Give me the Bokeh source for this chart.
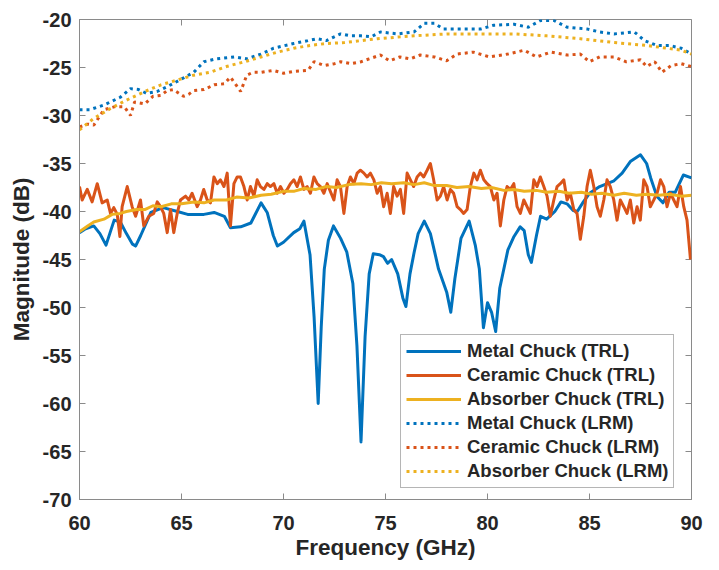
import math
from bokeh.plotting import figure
from bokeh.models import Range1d, Legend, LegendItem, FixedTicker
from bokeh.embed import file_html
from bokeh.resources import INLINE

# ---------------- data ----------------
x_ticks = [60, 65, 70, 75, 80, 85, 90]
y_ticks = [-70, -65, -60, -55, -50, -45, -40, -35, -30, -25, -20]

metal_trl_f = [60.0, 60.3, 60.7, 61.0, 61.3, 61.5, 61.7, 62.0, 62.3, 62.6, 62.75, 63.0, 63.5, 64.1,
               64.8, 65.3, 66.1, 66.6, 67.1, 67.4, 67.9, 68.4, 68.9, 69.2, 69.5, 69.7, 70.0, 70.5,
               70.8, 71.0, 71.3, 71.5, 71.7, 71.85, 72.0, 72.2, 72.45, 72.8, 73.1, 73.4, 73.6, 73.8,
               74.0, 74.2, 74.4, 74.7, 74.9, 75.1, 75.3, 75.6, 75.85, 76.0, 76.2, 76.4, 76.6, 76.9,
               77.2, 77.45, 77.6, 78.0, 78.2, 78.4, 78.7, 79.1, 79.4, 79.6, 79.8, 80.0, 80.2, 80.4,
               80.6, 81.0, 81.3, 81.6, 81.8, 82.0, 82.15, 82.4, 82.6, 82.9, 83.3, 83.6, 83.9, 84.2,
               84.4, 84.7, 85.0, 85.5, 86.2, 86.6, 87.0, 87.5, 87.8, 88.0, 88.3, 88.6, 88.9, 89.2,
               89.6, 90.0]
metal_trl_db = [-42.2, -41.8, -41.5, -42.3, -43.5, -42.2, -40.9, -41.1, -42.3, -43.4, -43.6, -42.5, -40.1, -39.6,
                -40.0, -40.3, -40.3, -40.1, -40.5, -41.7, -41.6, -41.2, -39.1, -40.1, -42.5, -43.6, -43.2, -42.2,
                -41.8, -41.0, -44.5, -51.0, -60.0, -52.0, -46.0, -43.0, -41.5, -42.8, -44.2, -47.5, -54.0, -64.0,
                -53.0, -46.5, -44.4, -44.5, -44.7, -45.4, -45.0, -46.5, -49.0, -49.9, -46.5, -44.3, -42.3, -41.0,
                -42.3, -44.6, -46.0, -48.4, -50.5, -47.0, -42.8, -41.0, -43.5, -46.0, -52.1, -49.5, -50.5, -52.5,
                -48.0, -44.0, -42.6, -41.6, -42.0, -44.5, -45.3, -42.5, -40.5, -40.8, -40.0, -39.0, -39.2, -39.9,
                -40.0, -39.0, -38.1, -37.4, -36.8, -36.0, -34.8, -34.1, -35.0, -36.5, -38.4, -39.1, -38.0, -38.0,
                -36.2, -36.5]

ceramic_trl_f = [60.00, 60.13, 60.38, 60.62, 60.87, 61.11, 61.36, 61.52, 61.68, 61.85, 61.98, 62.09, 62.34,
                 62.58, 62.75, 62.99, 63.15, 63.40, 63.64, 63.81, 63.97, 64.13, 64.30, 64.46, 64.62, 64.79,
                 64.95, 65.20, 65.36, 65.52, 65.77, 65.93, 66.09, 66.26, 66.42, 66.59, 66.75, 66.91, 67.08,
                 67.24, 67.40, 67.57, 67.73, 67.89, 68.06, 68.22, 68.38, 68.55, 68.71, 68.87, 69.04, 69.20,
                 69.36, 69.53, 69.69, 69.85, 70.02, 70.18, 70.34, 70.51, 70.67, 70.83, 71.00, 71.16, 71.32,
                 71.49, 71.65, 71.81, 71.98, 72.14, 72.47, 72.63, 72.79, 72.96, 73.12, 73.28, 73.45, 73.61,
                 73.77, 73.94, 74.10, 74.26, 74.43, 74.59, 74.75, 74.91, 75.08, 75.24, 75.40, 75.57, 75.73,
                 75.89, 76.06, 76.22, 76.38, 76.55, 76.71, 76.87, 77.04, 77.20, 77.36, 77.53, 77.69, 77.85,
                 78.02, 78.18, 78.34, 78.51, 78.67, 78.83, 79.00, 79.16, 79.33, 79.49, 79.65, 79.82, 79.98,
                 80.14, 80.31, 80.47, 80.63, 80.80, 80.96, 81.12, 81.29, 81.45, 81.61, 81.78, 81.94, 82.10,
                 82.27, 82.43, 82.59, 82.76, 82.92, 83.08, 83.25, 83.41, 83.57, 83.74, 83.90, 84.06, 84.23,
                 84.39, 84.55, 84.72, 84.88, 85.04, 85.21, 85.37, 85.53, 85.70, 85.86, 86.02, 86.19, 86.35,
                 86.51, 86.68, 86.84, 87.00, 87.17, 87.33, 87.49, 87.66, 87.82, 87.98, 88.15, 88.31, 88.48,
                 88.64, 88.80, 88.97, 89.13, 89.29, 89.46, 89.62, 89.78, 89.95]
ceramic_trl_db = [-37.4, -38.8, -37.7, -39.0, -37.1, -39.1, -38.8, -40.2, -39.6, -40.3, -42.6, -39.5, -37.4,
                  -39.5, -40.5, -38.8, -41.5, -40.5, -40.2, -39.0, -39.5, -40.2, -42.2, -39.8, -42.2, -40.2,
                  -38.8, -38.4, -38.8, -38.1, -39.5, -38.8, -37.7, -38.8, -39.1, -36.4, -37.1, -36.7, -37.4,
                  -36.0, -41.5, -37.1, -36.4, -36.4, -37.4, -38.8, -37.4, -38.4, -36.7, -37.4, -37.7, -37.1,
                  -37.4, -37.1, -38.1, -37.4, -38.1, -37.7, -37.1, -36.7, -37.4, -36.4, -37.7, -37.4, -38.1,
                  -36.4, -37.1, -37.4, -38.1, -37.1, -38.8, -36.7, -37.4, -40.2, -37.4, -36.4, -37.1, -36.0,
                  -35.7, -36.0, -36.4, -36.0, -36.7, -38.1, -37.4, -39.5, -38.1, -40.2, -37.4, -38.4, -37.7,
                  -40.2, -36.0, -36.7, -37.4, -36.4, -36.0, -36.4, -35.7, -35.0, -36.7, -38.8, -38.4, -37.4,
                  -38.8, -37.7, -38.1, -39.5, -39.8, -40.2, -39.8, -37.4, -36.0, -36.7, -35.7, -36.7, -37.1,
                  -37.4, -38.8, -38.1, -41.5, -38.8, -37.4, -37.7, -37.1, -39.5, -40.2, -38.8, -39.5, -40.2,
                  -36.7, -37.4, -36.4, -37.4, -38.4, -40.5, -38.8, -37.4, -37.1, -36.7, -38.8, -38.1, -39.8,
                  -40.2, -42.9, -40.5, -37.4, -35.7, -37.4, -39.5, -40.5, -38.8, -36.7, -37.4, -38.8, -40.9,
                  -38.8, -39.5, -40.2, -38.8, -41.2, -39.5, -40.9, -36.7, -37.4, -39.5, -38.8, -38.1, -36.7,
                  -37.4, -39.5, -38.1, -38.8, -39.5, -37.4, -39.5, -40.9, -45.0]

absorber_trl_f = [60.0, 60.4, 60.7, 61.2, 61.6, 62.0, 62.3, 62.8, 63.2, 63.6, 64.0, 64.5, 65.0, 65.6, 66.1,
                  66.6, 67.2, 67.7, 68.3, 68.9, 69.4, 70.0, 70.5, 71.0, 71.6, 72.1, 72.6, 73.2, 73.8, 74.3,
                  74.8, 75.3, 75.9, 76.4, 76.9, 77.4, 78.0, 78.5, 79.1, 79.7, 80.2, 80.8, 81.3, 81.8, 82.4,
                  82.9, 83.5, 84.0, 84.6, 85.1, 85.6, 86.2, 86.7, 87.3, 87.8, 88.4, 88.9, 89.5, 90.0]
absorber_trl_db = [-42.1, -41.5, -41.1, -40.8, -40.3, -40.2, -40.0, -39.8, -39.8, -39.4, -39.5, -39.2, -39.2,
                   -39.0, -39.1, -38.8, -38.8, -38.5, -38.6, -38.3, -38.2, -37.9, -37.9, -37.6, -37.7, -37.4,
                   -37.5, -37.2, -37.1, -37.2, -37.0, -37.1, -37.0, -37.2, -37.0, -37.3, -37.3, -37.5, -37.4,
                   -37.6, -37.5, -37.8, -37.7, -37.9, -37.8, -38.0, -37.9, -38.1, -38.0, -38.2, -38.1, -38.3,
                   -38.1, -38.3, -38.2, -38.3, -38.2, -38.4, -38.3]

metal_lrm_f = [60.0, 60.5, 61.2, 62.0, 62.5, 62.9, 63.3, 63.8, 64.3, 65.0, 65.6, 66.1, 66.7, 67.6, 68.2,
               68.9, 69.5, 70.5, 71.2, 71.65, 72.1, 72.8, 73.3, 73.8, 74.3, 74.75, 75.6, 76.4, 76.9, 77.4,
               77.85, 78.8, 79.65, 80.3, 81.3, 82.0, 82.6, 83.25, 83.9, 84.9, 85.5, 86.2, 87.2, 87.7, 88.3,
               88.9, 89.5, 90.0]
metal_lrm_db = [-29.4, -29.4, -28.9, -28.1, -27.2, -27.3, -27.7, -27.5, -27.0, -26.2, -25.5, -24.4, -24.1,
                -23.9, -24.1, -23.6, -23.0, -22.5, -22.2, -22.0, -22.2, -21.5, -21.7, -21.7, -21.8, -21.3,
                -21.5, -21.3, -20.4, -20.4, -21.0, -21.0, -21.0, -20.6, -20.5, -20.8, -20.1, -20.1, -20.8,
                -21.0, -21.3, -21.5, -21.3, -22.2, -22.7, -22.7, -23.0, -23.6]

ceramic_lrm_f = [60.0, 60.4, 60.7, 61.2, 61.7, 62.2, 62.5, 62.7, 63.2, 63.6, 64.0, 64.3, 64.6, 65.1, 65.35,
                 65.6, 66.1, 66.6, 67.1, 67.4, 67.7, 67.9, 68.2, 68.5, 68.9, 69.5, 70.0, 70.5, 71.2, 71.5,
                 72.0, 72.5, 72.8, 73.3, 73.8, 74.2, 74.75, 75.2, 75.7, 76.2, 76.7, 77.4, 78.0, 78.5, 79.3,
                 80.1, 81.0, 81.8, 82.4, 83.1, 83.9, 84.55, 85.0, 85.5, 86.2, 86.8, 87.5, 87.8, 88.2, 88.55,
                 89.0, 89.5, 90.0]
ceramic_lrm_db = [-31.2, -30.9, -31.0, -29.4, -29.1, -29.1, -30.0, -28.6, -28.8, -28.0, -27.9, -27.4, -27.3,
                  -28.0, -27.8, -27.4, -27.3, -26.8, -26.7, -26.0, -26.9, -27.5, -25.8, -25.5, -25.5, -25.3,
                  -25.6, -25.4, -25.3, -24.4, -24.8, -24.6, -24.4, -24.6, -24.4, -24.1, -23.7, -24.3, -23.9,
                  -24.1, -23.7, -23.9, -24.3, -23.6, -23.4, -23.9, -23.6, -23.2, -23.9, -23.4, -23.7, -23.6,
                  -24.4, -23.9, -23.9, -24.4, -24.2, -24.9, -24.4, -25.5, -24.8, -24.6, -24.9]

absorber_lrm_f = [60.0, 60.7, 61.5, 62.3, 63.2, 64.0, 64.8, 65.6, 66.4, 67.2, 68.1, 68.9, 69.7, 70.5, 71.3,
                  72.1, 73.0, 73.8, 74.6, 76.4, 78.0, 79.65, 81.3, 82.9, 84.55, 86.2, 87.8, 89.5, 90.0]
absorber_lrm_db = [-31.5, -30.3, -29.3, -28.4, -27.5, -26.8, -26.3, -25.8, -25.5, -24.9, -24.4, -23.9, -23.4,
                   -23.0, -22.7, -22.5, -22.4, -22.2, -22.0, -21.7, -21.5, -21.5, -21.5, -21.7, -22.0, -22.4,
                   -22.7, -23.2, -23.6]

series_labels = ["Metal Chuck (TRL)", "Ceramic Chuck (TRL)", "Absorber Chuck (TRL)",
                 "Metal Chuck (LRM)", "Ceramic Chuck (LRM)", "Absorber Chuck (LRM)"]

# ---------------- styling ----------------
BLUE, ORANGE, YELLOW = "#0072BD", "#D95319", "#EDB120"
FONT = "Liberation Sans"
TXT = "#262626"
AX = "#8a8a8a"

X0, X1 = x_ticks[0], x_ticks[-1]
Y0, Y1 = y_ticks[0], y_ticks[-1]

p = figure(width=711, height=562, x_range=Range1d(X0, X1), y_range=Range1d(Y0, Y1),
           output_backend="svg", toolbar_location=None,
           min_border_left=79, min_border_right=20, min_border_top=19, min_border_bottom=61)
p.xgrid.visible = False
p.ygrid.visible = False
p.outline_line_color = AX
p.outline_line_width = 1
p.background_fill_color = "white"
p.border_fill_color = "white"

for ax in (p.xaxis[0], p.yaxis[0]):
    ax.axis_line_color = AX
    ax.major_tick_line_color = AX
    ax.major_tick_in = 6
    ax.major_tick_out = 0
    ax.minor_tick_line_color = None
    ax.major_label_text_font = FONT
    ax.major_label_text_font_style = "bold"
    ax.major_label_text_font_size = "20px"
    ax.major_label_text_line_height = 1.0
    ax.major_label_text_color = TXT
    ax.axis_label_text_font = FONT
    ax.axis_label_text_font_style = "bold"
    ax.axis_label_text_font_size = "22.5px"
    ax.axis_label_text_line_height = 1.0
    ax.axis_label_text_color = TXT

p.xaxis[0].ticker = FixedTicker(ticks=x_ticks)
p.yaxis[0].ticker = FixedTicker(ticks=y_ticks)
p.xaxis[0].major_label_overrides = {t: str(t) for t in x_ticks}
p.yaxis[0].major_label_overrides = {t: str(t) for t in y_ticks}
p.xaxis[0].axis_label = "Frequency (GHz)"
p.yaxis[0].axis_label = "Magnitude (dB)"
p.xaxis[0].major_label_standoff = 16
p.yaxis[0].major_label_standoff = 8
p.xaxis[0].axis_label_standoff = 2
p.yaxis[0].axis_label_standoff = 6

# mirrored inward ticks on the top and right edges (marks clipped to the frame)
p.scatter(x_ticks, [Y1] * len(x_ticks), marker="dash", angle=math.pi / 2, size=12,
          line_color=AX, line_width=1)
p.scatter([X1] * len(y_ticks), y_ticks, marker="dash", size=12, line_color=AX, line_width=1)

LW = 3
DOT = "3 4"
r1 = p.line(metal_trl_f, metal_trl_db, line_color=BLUE, line_width=LW, line_join="round")
r2 = p.line(ceramic_trl_f, ceramic_trl_db, line_color=ORANGE, line_width=LW, line_join="round")
r3 = p.line(absorber_trl_f, absorber_trl_db, line_color=YELLOW, line_width=LW, line_join="round")
r4 = p.line(metal_lrm_f, metal_lrm_db, line_color=BLUE, line_width=LW, line_dash=DOT)
r5 = p.line(ceramic_lrm_f, ceramic_lrm_db, line_color=ORANGE, line_width=LW, line_dash=DOT)
r6 = p.line(absorber_lrm_f, absorber_lrm_db, line_color=YELLOW, line_width=LW, line_dash=DOT)

items = [LegendItem(label=lab, renderers=[r]) for lab, r in zip(series_labels, [r1, r2, r3, r4, r5, r6])]
legend = Legend(items=items, location=(321, 11),
                label_text_font=FONT, label_text_font_style="bold", label_text_font_size="18.5px",
                label_text_line_height=1.0,
                label_text_color=TXT, glyph_width=55, glyph_height=20, label_height=20,
                spacing=2, padding=5, margin=0, label_standoff=6,
                border_line_color="#6b6b6b", border_line_width=1,
                background_fill_color="white", background_fill_alpha=1.0)
p.add_layout(legend)

open("out.html", "w").write(file_html(p, INLINE))
